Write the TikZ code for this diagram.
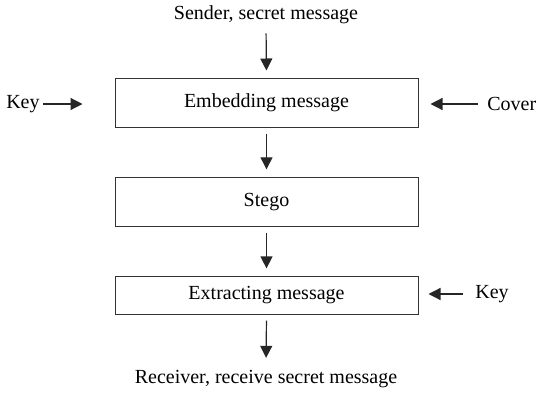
\documentclass[tikz,border=0pt]{standalone}
\usepackage{fontspec}
\setmainfont{Liberation Serif}
\usetikzlibrary{arrows.meta, positioning}

\begin{document}
\begin{tikzpicture}[x=0.5pt, y=-0.5pt,
    stagebox/.style={draw=black!80, line width=0.5pt, minimum width=151.5pt, inner sep=0pt, font=\normalsize},
    label/.style={inner sep=0pt, font=\normalsize},
    flow/.style={-{Triangle[length=6pt, width=6pt]}, line width=0.6pt, black!85}]
      \useasboundingbox (0,0) rectangle (557,396);

      % Stages
      \node[stagebox, minimum height=24.5pt] (embed) at (266.5,102.5) {Embedding message};
      \node[stagebox, minimum height=24.2pt] (stego) at (266.5,202) {Stego};
      \node[stagebox, minimum height=18.6pt] (extract) at (266.5,295.5) {Extracting message};

      % Texts
      \node[label] (sender) at (266,15) {Sender, secret message};
      \node[label] (receiver) at (266,379) {Receiver, receive secret message};
      \node[label, anchor=east] (keyin) at (40,104) {Key};
      \node[label, anchor=west] (cover) at (487,104) {Cover};
      \node[label, anchor=west] (keyout) at (475,294) {Key};

      % Main flow
      \draw[flow, shorten <=4.5pt, shorten >=3.5pt] (sender.south) -- (embed.north);
      \draw[flow, shorten <=3pt, shorten >=4pt] (embed) -- (stego);
      \draw[flow, shorten <=3pt, shorten >=4pt] (stego) -- (extract);
      \draw[flow, shorten <=3pt, shorten >=6pt] (extract.south) -- (receiver.north);

      % Side inputs
      \draw[flow, shorten <=1.5pt, shorten >=16pt] (keyin.east) -- (embed.west |- keyin.east);
      \draw[flow, shorten <=4.5pt, shorten >=6pt] (cover.west) -- (embed.east |- cover.west);
      \draw[flow, shorten <=6pt, shorten >=5pt] (keyout.west) -- (extract.east |- keyout.west);
    \end{tikzpicture}
\end{document}
